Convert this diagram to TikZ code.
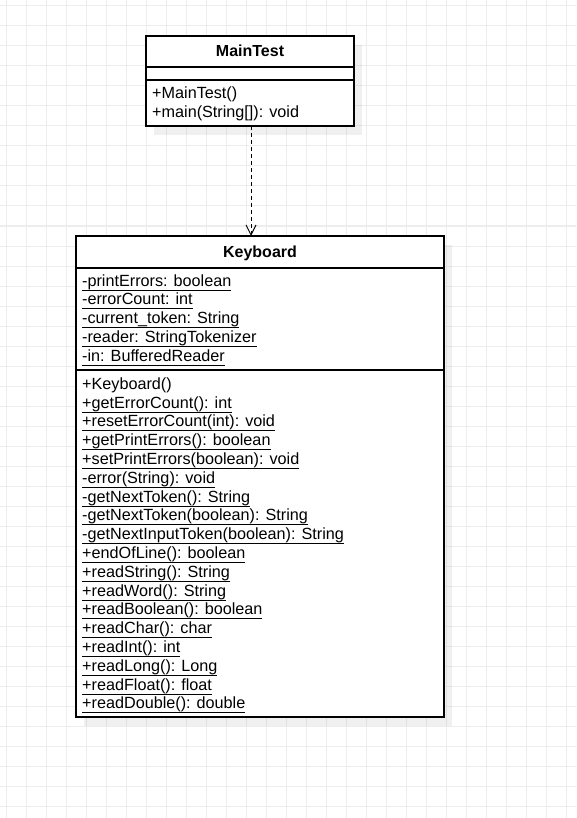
\documentclass[tikz,border=0pt]{standalone}
\usepackage{fontspec}
\setmainfont{Liberation Sans}
\usetikzlibrary{positioning,arrows.meta,shadows}

\definecolor{gridgray}{HTML}{EDEDED}
\newcommand\undl[1]{\setbox0\hbox{#1}\rlap{\rule[-4.6pt]{\wd0}{1.1pt}}\box0}

\tikzset{
  compart/.style={draw=black, line width=1.2pt, fill=white, inner sep=0pt, outer sep=0pt,
    drop shadow={shadow xshift=8pt, shadow yshift=-9pt, fill=black, opacity=0.06}},
  classname/.style={font=\bfseries\fontsize{16}{18.67}\selectfont, text height=10pt, text depth=0pt},
  member/.style={anchor=base west, inner sep=0pt, font=\fontsize{16.2}{18.8}\selectfont},
  gridline/.style={draw=gridgray, line width=1pt},
  dep/.style={line width=1pt, dash pattern=on 4pt off 3pt, -{Straight Barb[length=10pt,width=10pt]}}
}

\begin{document}
\begin{tikzpicture}[x=1pt, y=-1pt]
    \useasboundingbox (0,0) rectangle (576,818);
    \fill[white] (0,0) rectangle (576,818);

    % background grid
    \foreach \gx in {6,26,...,566}
        \draw[gridline] (\gx,0) -- (\gx,818);
    \foreach \gy in {6,26,...,806}
        \draw[gridline] (0,\gy) -- (576,\gy);

    % MainTest class
    \node[compart, classname, minimum width=208pt, minimum height=31pt, anchor=north west] (mainHead) at (146,36) {MainTest};
    \node[compart, minimum width=208pt, minimum height=13pt, below=0pt of mainHead] (mainAttr) {};
    \node[compart, minimum width=208pt, minimum height=46pt, below=0pt of mainAttr] (mainOps) {};
    \node[member] (mainOp1) at (152,99) {+MainTest()};
    \node[member] (mainOp2) at (152,118) {+main(String[]): void};

    % Keyboard class
    \node[compart, classname, minimum width=368pt, minimum height=32pt, anchor=north west] (kbHead) at (76,236) {Keyboard};
    \node[compart, minimum width=368pt, minimum height=102pt, below=0pt of kbHead] (kbAttr) {};
    \node[compart, minimum width=368pt, minimum height=347pt, below=0pt of kbAttr] (kbOps) {};

    % attributes
    \foreach \att [count=\i] in {-printErrors: boolean, -errorCount: int, -current\_token: String,
                                 -reader: StringTokenizer, -in: BufferedReader}
        \node[member] (kbAttr\i) at (82,{286+18.75*(\i-1)}) {\undl{\att}};

    % operations
    \node[member] (kbOp1) at (82,389.2) {+Keyboard()};
    \foreach \op [count=\i from 2] in {+getErrorCount(): int, +resetErrorCount(int): void,
                                       +getPrintErrors(): boolean, +setPrintErrors(boolean): void,
                                       -error(String): void, -getNextToken(): String,
                                       -getNextToken(boolean): String, -getNextInputToken(boolean): String,
                                       +endOfLine(): boolean, +readString(): String,
                                       +readWord(): String, +readBoolean(): boolean,
                                       +readChar(): char, +readInt(): int,
                                       +readLong(): Long, +readFloat(): float,
                                       +readDouble(): double}
        \node[member] (kbOp\i) at (82,{389.2+18.8*(\i-1)}) {\undl{\op}};

    % dependency
    \draw[dep] ([xshift=1pt]mainOps.south) -- ([xshift=1pt]mainOps.south |- kbHead.north);
\end{tikzpicture}
\end{document}
